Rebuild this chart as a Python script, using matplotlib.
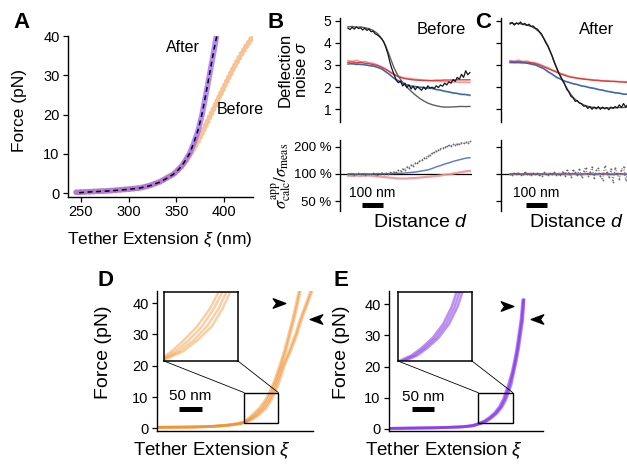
import numpy as np
import matplotlib
matplotlib.use("Agg")
import matplotlib.pyplot as plt
from matplotlib.path import Path
from matplotlib.patches import Rectangle, ConnectionPatch
from matplotlib.ticker import NullLocator

# ---------------- data ----------------
# A: force-extension curves before / after
A_before_ext = [245, 260, 280, 300, 312, 322, 333, 341, 348, 354, 361, 365, 369.6, 375, 380, 385,
                390.6, 396, 402.8, 409, 416.8, 423, 429]
A_before_force = [0.2, 0.35, 0.6, 1.0, 1.3, 1.9, 2.9, 4.0, 5.0, 6.3, 8.4, 10, 11.8, 14.3, 16.8, 19.4,
                  22.2, 25.0, 28.4, 31.4, 34.8, 37.3, 39.4]
A_after_ext = [245, 260, 280, 300, 312, 322, 333, 341, 347, 352, 356, 360, 364, 368, 373, 377, 380,
               384, 387, 390, 392]
A_after_force = [0.2, 0.35, 0.6, 1.0, 1.3, 1.9, 2.9, 4.0, 4.8, 6.0, 7.0, 8.5, 10.1, 12.5, 16, 20.0,
                 23.8, 29, 33, 37, 39.8]
A_fit_ext = [248, 260, 280, 300, 312, 322, 333, 341, 347, 352, 356, 360, 364, 368, 373, 377, 380,
             384, 387, 390, 393]
A_fit_force = [0.1, 0.3, 0.55, 0.95, 1.3, 1.85, 2.8, 3.9, 4.8, 5.9, 7.0, 8.5, 10.1, 12.6, 16.2, 20.2,
               24.0, 29.2, 33.2, 37.2, 40.6]

# B / C: deflection noise versus distance
d_fine = np.arange(0, 581, 10)
d_coarse = np.arange(0, 581, 20)

B_black = [4.66, 4.60, 4.70, 4.62, 4.72, 4.64, 4.68, 4.58, 4.66, 4.56, 4.62, 4.50, 4.52, 4.40, 4.36,
           4.28, 4.18, 4.05, 3.80, 3.50, 3.10, 2.80, 2.55, 2.30, 2.20, 2.28, 2.05, 2.18, 1.98, 2.10,
           1.92, 2.04, 1.88, 2.02, 1.94, 1.86, 2.00, 1.90, 2.06, 1.96, 2.00, 1.94, 2.06, 1.98, 2.10,
           2.04, 2.18, 2.10, 2.24, 2.18, 2.34, 2.26, 2.44, 2.36, 2.58, 2.44, 2.74, 2.56, 2.66]
B_gray = [4.72, 4.74, 4.70, 4.72, 4.68, 4.64, 4.56, 4.42, 4.20, 3.85, 3.35, 2.85, 2.48, 2.22, 2.00,
          1.82, 1.65, 1.50, 1.38, 1.28, 1.21, 1.16, 1.12, 1.10, 1.10, 1.11, 1.12, 1.13, 1.12, 1.13]
B_red = [3.12, 3.14, 3.10, 3.12, 3.08, 3.06, 3.02, 2.98, 2.90, 2.80, 2.68, 2.56, 2.47, 2.41, 2.37,
         2.34, 2.32, 2.31, 2.30, 2.30, 2.30, 2.31, 2.31, 2.32, 2.32, 2.32, 2.33, 2.33, 2.33, 2.33]
B_red_light = [3.20, 3.16, 3.22, 3.14, 3.16, 3.10, 3.08, 3.00, 2.92, 2.82, 2.70, 2.58, 2.50, 2.44,
               2.40, 2.38, 2.36, 2.34, 2.32, 2.30, 2.28, 2.27, 2.26, 2.25, 2.24, 2.23, 2.23, 2.22,
               2.22, 2.21]
B_blue = [3.04, 3.06, 3.02, 3.04, 3.00, 2.98, 2.95, 2.90, 2.82, 2.70, 2.55, 2.40, 2.28, 2.18, 2.10,
          2.05, 2.02, 2.00, 1.98, 1.96, 1.94, 1.90, 1.86, 1.82, 1.78, 1.74, 1.71, 1.68, 1.66, 1.64]
B_blue_light = [3.10, 3.04, 3.08, 3.00, 3.04, 2.96, 2.97, 2.88, 2.84, 2.68, 2.57, 2.38, 2.30, 2.16,
                2.12, 2.03, 2.04, 1.98, 2.00, 1.94, 1.96, 1.88, 1.88, 1.80, 1.80, 1.72, 1.73, 1.66,
                1.68, 1.62]

B_ratio_gray = [1.00, 0.99, 1.01, 0.98, 1.00, 1.02, 0.99, 1.01, 0.98, 1.00, 1.01, 0.99, 1.02, 1.00,
                0.98, 1.01, 1.03, 0.99, 1.02, 1.00, 1.04,
                1.02, 1.06, 1.04, 1.10, 1.08, 1.14, 1.12, 1.20, 1.18, 1.26, 1.24, 1.32, 1.32, 1.40,
                1.42, 1.50, 1.52, 1.60, 1.64, 1.72, 1.74, 1.82, 1.84, 1.92, 1.94, 2.00, 2.04, 2.08,
                2.06, 2.14, 2.12, 2.18, 2.16, 2.24, 2.20, 2.28, 2.24, 2.30]
B_ratio_blue = [1.00, 1.01, 0.99, 1.00, 1.01, 0.99, 1.00, 1.01, 1.00, 1.01, 1.00, 1.01, 1.02, 1.02,
                1.03, 1.04, 1.05, 1.07, 1.09, 1.11, 1.15, 1.20, 1.24, 1.29, 1.33, 1.38, 1.42, 1.46,
                1.50, 1.52]
B_ratio_red = [0.96, 0.95, 0.96, 0.95, 0.96, 0.96, 0.95, 0.94, 0.93, 0.92, 0.91, 0.90, 0.89, 0.89,
               0.89, 0.90, 0.90, 0.91, 0.92, 0.93, 0.94, 0.95, 0.96, 0.98, 0.99, 1.01, 1.03, 1.05,
               1.07, 1.08]

C_black = [4.85, 4.92, 4.80, 4.90, 4.84, 4.94, 4.82, 4.88, 4.78, 4.84, 4.74, 4.76, 4.66, 4.62, 4.50,
           4.40, 4.20, 4.00, 3.85, 3.62, 3.40, 3.12, 2.90, 2.66, 2.50, 2.30, 2.14, 1.90, 1.78, 1.58,
           1.52, 1.36, 1.40, 1.28, 1.26, 1.14, 1.16, 1.04, 1.12, 1.00, 1.10, 1.02, 1.12, 1.00, 1.10,
           1.02, 1.08, 0.98, 1.10, 1.04, 1.12, 1.06, 1.20, 1.08, 1.26, 1.10, 1.22, 1.12, 1.18]
C_gray = [4.90, 4.86, 4.88, 4.84, 4.80, 4.74, 4.64, 4.48, 4.22, 3.88, 3.42, 2.92, 2.48, 2.12, 1.80,
          1.54, 1.36, 1.24, 1.16, 1.11, 1.08, 1.07, 1.06, 1.06, 1.06, 1.07, 1.08, 1.08, 1.09, 1.09]
C_red = [3.16, 3.14, 3.16, 3.14, 3.12, 3.10, 3.06, 3.00, 2.92, 2.84, 2.76, 2.68, 2.60, 2.53, 2.47,
         2.43, 2.40, 2.37, 2.35, 2.33, 2.31, 2.30, 2.28, 2.27, 2.26, 2.25, 2.24, 2.23, 2.22, 2.22]
C_red_light = [3.20, 3.18, 3.22, 3.16, 3.18, 3.12, 3.10, 3.04, 2.95, 2.88, 2.78, 2.72, 2.62, 2.57,
               2.49, 2.46, 2.41, 2.40, 2.36, 2.35, 2.32, 2.32, 2.29, 2.29, 2.27, 2.27, 2.25, 2.25,
               2.23, 2.24]
C_blue = [3.10, 3.12, 3.10, 3.11, 3.08, 3.05, 3.00, 2.93, 2.83, 2.71, 2.58, 2.46, 2.36, 2.28, 2.21,
          2.16, 2.11, 2.06, 2.02, 1.98, 1.94, 1.90, 1.86, 1.82, 1.78, 1.75, 1.72, 1.69, 1.67, 1.65]
C_blue_light = [3.14, 3.08, 3.13, 3.07, 3.10, 3.02, 3.02, 2.90, 2.85, 2.68, 2.60, 2.43, 2.38, 2.25,
                2.23, 2.14, 2.13, 2.04, 2.04, 1.96, 1.96, 1.88, 1.88, 1.80, 1.80, 1.73, 1.74, 1.67,
                1.69, 1.63]

C_ratio_gray = [1.00, 0.98, 1.02, 0.99, 1.03, 0.98, 1.01, 1.04, 0.99, 1.00, 0.97, 1.02, 1.00, 1.03,
                0.98, 0.96, 1.04, 1.00, 0.97, 1.02, 0.99, 1.05, 0.98, 1.01, 0.97,
                1.06, 0.95, 1.10, 1.02, 0.93, 1.12, 1.04, 0.97, 1.15, 0.92, 1.08, 1.18, 0.96, 1.04,
                1.20, 0.90, 1.10, 1.16, 0.94, 0.86, 1.22, 1.05, 0.92, 1.14, 0.82, 1.18, 1.00, 0.88,
                1.12, 1.20, 0.85, 1.06, 0.94, 1.10]
C_ratio_blue = [1.00, 1.01, 0.99, 1.00, 1.01, 1.00, 0.99, 1.01, 1.00, 0.99, 1.01, 1.00, 0.99, 1.01,
                1.00, 1.01, 0.99, 1.00, 1.01, 1.00, 0.99, 1.01, 1.00, 1.01, 0.99, 1.00, 1.01, 1.00,
                0.99, 1.00]
C_ratio_red = [0.99, 1.00, 1.01, 0.99, 1.00, 1.01, 1.00, 0.99, 1.00, 1.01, 0.99, 1.00, 1.01, 1.00,
               0.99, 1.00, 1.01, 0.99, 1.00, 1.01, 1.00, 0.99, 1.01, 1.00, 0.99, 1.01, 1.00, 1.00,
               1.01, 0.99]

# D: repeated pulls before, E: repeated pulls after
D_force = [0.3, 0.4, 0.6, 1.0, 1.5, 2.0, 3.0, 4.5, 6.5, 9.0, 11.4, 15, 20, 25, 30, 35, 40, 44]
D_ext = [
    [98, 170, 215, 250, 275, 288, 298, 310, 324, 337, 346, 357, 369, 380, 389, 398, 406, 412],
    [98, 172, 218, 253, 278, 290, 302, 315, 329, 341, 350, 360, 372, 383, 392, 401, 409, 415],
    [98, 174, 221, 256, 281, 292, 306, 320, 334, 346, 354, 364, 376, 391, 404, 415, 428, 438],
    [98, 176, 224, 259, 284, 294, 310, 324, 339, 350, 358, 368, 379, 394, 407, 418, 431, 441],
]
E_force = [0.1, 0.3, 0.6, 1.0, 1.7, 2.5, 3.5, 5.0, 7.0, 9.5, 11.6, 14, 18, 22, 26, 30, 35, 41.5]
E_ext = [
    [100, 200, 258, 282, 297, 310, 320, 332, 343, 352, 357, 363, 371, 377, 382, 386, 391, 395],
    [100, 203, 261, 285, 300, 313, 323, 335, 346, 355, 360, 366, 373, 379, 384, 388, 393, 397],
    [100, 206, 264, 288, 303, 316, 326, 338, 349, 358, 363, 369, 375, 381, 386, 390, 395, 398],
]
D_zoom = (290, 366, 1.6, 11.4)     # x0, x1, y0, y1 of the magnified region
E_zoom = (296, 373, 1.7, 11.6)
D_arrows = [(367, 40.1, "right"), (449, 35.0, "left")]
E_arrows = [(360, 39.5, "right"), (427, 35.3, "left")]

force_ticks = [0, 10, 20, 30, 40]
ext_ticks = [250, 300, 350, 400]
noise_ticks = [1, 2, 3, 4, 5]
ratio_ticks = [0.5, 1.0, 2.0]
ratio_labels = ["50 %", "100 %", "200 %"]

# ---------------- style ----------------
plt.rcParams.update({
    "font.family": ["Liberation Sans", "DejaVu Sans"],
    "mathtext.fontset": "custom",
    "mathtext.rm": "Liberation Sans",
    "mathtext.it": "Liberation Sans:italic",
    "mathtext.bf": "Liberation Sans:bold",
    "axes.linewidth": 1.0,
    "xtick.major.width": 0.9,
    "ytick.major.width": 0.9,
    "xtick.major.size": 3.6,
    "ytick.major.size": 3.6,
    "xtick.major.pad": 2.5,
    "ytick.major.pad": 2.5,
    "xtick.labelsize": 10.5,
    "ytick.labelsize": 10.5,
})

W, H = 627, 466
fig = plt.figure(figsize=(W / 100, H / 100), dpi=100)


def axes_px(x0, x1, ytop, ybot):
    return fig.add_axes([x0 / W, 1 - ybot / H, (x1 - x0) / W, (ybot - ytop) / H])


def text_px(x, y, s, **kw):
    kw.setdefault("ha", "center")
    kw.setdefault("va", "center")
    return fig.text(x / W, 1 - y / H, s, **kw)


def only_left(ax):
    for s in ("top", "right", "bottom"):
        ax.spines[s].set_visible(False)
    ax.set_xticks([])


ORANGE_LIGHT = "#f7b577"
PURPLE = "#9858f2"
ORANGE = "#f28a22"
PURPLE_D = "#8636e8"
RED = "#e23b3b"
RED_L = "#f39393"
BLUE = "#3c62b0"
BLUE_L = "#93acdc"
GRAY = "#5e5e5e"
BLACK = "#151515"

# ---------------- A ----------------
axA = axes_px(68, 253, 36, 197)
axA.plot(A_before_ext, A_before_force, color=ORANGE_LIGHT, lw=4.2, alpha=0.8,
         ls=(0, (0.01, 0.75)), dash_capstyle="round")
axA.plot(A_after_ext, A_after_force, color=PURPLE, lw=4.0, alpha=0.7, solid_capstyle="round")
axA.plot(A_fit_ext, A_fit_force, color="k", lw=1.1, ls=(0, (3.2, 2.4)))
axA.set_xlim(236.4, 430.4)
axA.set_ylim(-1.0, 40)
axA.set_xticks(ext_ticks)
axA.set_yticks(force_ticks)
for s in ("top", "right"):
    axA.spines[s].set_visible(False)
text_px(183, 48, "After", fontsize=11.5)
text_px(240, 110, "Before", fontsize=11.5)
text_px(20, 110, "Force (pN)", fontsize=12.5, rotation=90)
text_px(160, 240, r"Tether Extension $\xi$ (nm)", fontsize=12.5)

# ---------------- B / C ----------------
def noise_panel(ytop, ybot, x0, x1, xlim):
    ax = axes_px(x0, x1, ytop, ybot)
    only_left(ax)
    ax.set_xlim(*xlim)
    return ax


for (x0, xlim, blk, gry, rd, rdl, bl, bll, rg, rb, rr, labels) in [
        (340, (-38, 590), B_black, B_gray, B_red, B_red_light, B_blue, B_blue_light,
         B_ratio_gray, B_ratio_blue, B_ratio_red, True),
        (501, (-43, 585), C_black, C_gray, C_red, C_red_light, C_blue, C_blue_light,
         C_ratio_gray, C_ratio_blue, C_ratio_red, False)]:
    axu = noise_panel(18, 122, x0, x0 + 132, xlim)
    axu.plot(d_coarse, rdl, color=RED_L, lw=1.1)
    axu.plot(d_coarse, bll, color=BLUE_L, lw=1.1)
    axu.plot(d_coarse, rd, color=RED, lw=1.0)
    axu.plot(d_coarse, bl, color=BLUE, lw=1.0)
    axu.plot(d_coarse, gry, color=GRAY, lw=1.0)
    axu.plot(d_fine, blk, color=BLACK, lw=0.9)
    axu.set_ylim(0.427, 5.12)
    axu.set_yticks(noise_ticks)
    axu.tick_params(labelsize=10)
    if not labels:
        axu.set_yticklabels([])

    axl = noise_panel(140, 211, x0, x0 + 132, xlim)
    axl.set_yscale("log", base=2)
    axl.set_ylim(0.387, 2.39)
    axl.set_yticks(ratio_ticks)
    axl.yaxis.set_minor_locator(NullLocator())
    axl.set_yticklabels(ratio_labels if labels else [])
    axl.tick_params(labelsize=9.5)
    axl.axhline(1.0, color="k", lw=0.9, zorder=1)
    axl.plot(d_coarse, rr, color=RED_L, lw=1.6, alpha=0.9)
    axl.plot(d_coarse, rb, color=BLUE, lw=1.1, alpha=0.8)
    axl.plot(d_fine, rg, color=GRAY, lw=0.8, ls=(0, (1, 1.5)), marker="o", ms=1.3,
             mew=0, alpha=0.9)
    bar0 = 65 if labels else 76
    axl.plot([bar0, bar0 + 100], [0.457, 0.457], color="k", lw=3.6,
             solid_capstyle="butt", clip_on=False)
    axl.text(bar0 + 50, 0.62, "100 nm", ha="center", va="center", fontsize=10)

text_px(441, 30, "Before", fontsize=12)
text_px(597, 30, "After", fontsize=12)
text_px(293, 70, "Deflection\nnoise $\\sigma$", fontsize=12, rotation=90, linespacing=1.05)
text_px(282, 176, r"$\sigma^{\mathrm{app}}_{\mathrm{calc}}/\sigma_{\mathrm{meas}}$",
        fontsize=12, rotation=90, math_fontfamily="stix")
text_px(420, 222, r"Distance $d$", fontsize=14)
text_px(576, 222, r"Distance $d$", fontsize=14)

# ---------------- D / E ----------------
arrow_right = Path([(1.0, 0.0), (-1.0, 0.75), (-0.45, 0.0), (-1.0, -0.75), (1.0, 0.0)],
                   [Path.MOVETO, Path.LINETO, Path.LINETO, Path.LINETO, Path.CLOSEPOLY])
arrow_left = Path([(-1.0, 0.0), (1.0, 0.75), (0.45, 0.0), (1.0, -0.75), (-1.0, 0.0)],
                  [Path.MOVETO, Path.LINETO, Path.LINETO, Path.LINETO, Path.CLOSEPOLY])


def pull_panel(x0, x1, xlim, ylim, force, exts, color, alpha, zoom, ins_px, arrows, bar0):
    ax = axes_px(x0, x1, 291, 430.7)
    for e in exts:
        ax.plot(e, force, color=color, lw=2.0, alpha=alpha, solid_capstyle="round")
    ax.set_xlim(*xlim)
    ax.set_ylim(*ylim)
    ax.set_xticks([])
    ax.set_yticks(force_ticks)
    for s in ("top", "right"):
        ax.spines[s].set_visible(False)
    zx0, zx1, zy0, zy1 = zoom
    ax.add_patch(Rectangle((zx0, zy0), zx1 - zx0, zy1 - zy0, fill=False, ec="k", lw=1.0,
                           zorder=5))
    for (ax_x, ay, direction) in arrows:
        ax.plot([ax_x], [ay], ls="none", marker=arrow_right if direction == "right" else arrow_left,
                ms=9, color="k", clip_on=False)
    ax.plot([bar0, bar0 + 50], [6.2, 6.2], color="k", lw=3.6, solid_capstyle="butt")
    ax.text(bar0 + 25, 10.2, "50 nm", ha="center", va="center", fontsize=11)

    ins = axes_px(*ins_px)
    for e in exts:
        ins.plot(e, force, color=color, lw=1.8, alpha=alpha - 0.05)
    ins.set_xlim(zx0, zx1)
    ins.set_ylim(zy0, zy1)
    ins.set_xticks([])
    ins.set_yticks([])
    for s in ins.spines.values():
        s.set_linewidth(1.1)
    for a, b in [((0, 0), (zx0, zy1)), ((1, 0), (zx1, zy1))]:
        fig.add_artist(ConnectionPatch(xyA=a, coordsA=ins.transAxes, xyB=b,
                                       coordsB=ax.transData, color="k", lw=0.6))
    return ax


pull_panel(157, 313, (96, 443), (-0.77, 43.9), D_force, D_ext, ORANGE, 0.45, D_zoom,
           (164, 238, 292, 361), D_arrows, 145)
pull_panel(389, 543, (98, 440), (-0.64, 44.3), E_force, E_ext, PURPLE_D, 0.6, E_zoom,
           (398, 472, 292, 361), E_arrows, 148)

text_px(104, 352, "Force (pN)", fontsize=14, rotation=90)
text_px(342, 352, "Force (pN)", fontsize=14, rotation=90)
text_px(212, 451, r"Tether Extension $\xi$", fontsize=13.5)
text_px(444, 451, r"Tether Extension $\xi$", fontsize=13.5)

# panel letters
for lbl, x, y in [("A", 21, 22), ("B", 276, 22), ("C", 483, 22), ("D", 105, 281), ("E", 341, 281)]:
    text_px(x, y, lbl, fontsize=16, fontweight="bold")

fig.savefig("out.png", dpi=100)
